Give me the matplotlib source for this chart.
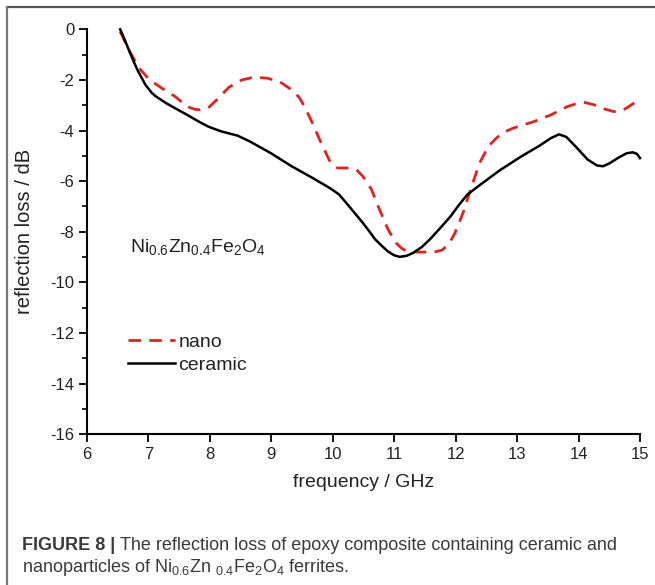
import matplotlib
matplotlib.use("Agg")
import matplotlib.pyplot as plt
from matplotlib.lines import Line2D
from matplotlib.ticker import MultipleLocator

plt.rcParams['font.family'] = ['Liberation Sans', 'DejaVu Sans']
plt.rcParams['mathtext.fontset'] = 'custom'
plt.rcParams['mathtext.rm'] = 'Liberation Sans'
plt.rcParams['mathtext.it'] = 'Liberation Sans'
plt.rcParams['mathtext.bf'] = 'Liberation Sans:bold'
plt.rcParams['axes.unicode_minus'] = False

# ---- data ----
ceramic_freq = [6.54, 6.62, 6.68, 6.75, 6.82, 6.95, 7.05, 7.12, 7.29, 7.45, 7.63, 7.80, 7.97,
                8.18, 8.45, 8.65, 8.99, 9.33, 9.67, 9.95, 10.10, 10.22, 10.35, 10.49, 10.60,
                10.69, 10.80, 10.90, 11.00, 11.09, 11.20, 11.31, 11.45, 11.58, 11.75, 11.92,
                12.05, 12.19, 12.40, 12.73, 13.07, 13.35, 13.55, 13.68, 13.80, 13.96, 14.15,
                14.30, 14.40, 14.50, 14.65, 14.78, 14.88, 14.95, 15.00]
ceramic_rl = [0.0, -0.45, -0.81, -1.22, -1.60, -2.19, -2.50, -2.65, -2.92, -3.14, -3.38, -3.62,
              -3.84, -4.03, -4.20, -4.43, -4.89, -5.41, -5.87, -6.27, -6.52, -6.86, -7.24,
              -7.65, -8.00, -8.30, -8.56, -8.78, -8.93, -8.99, -8.95, -8.83, -8.60, -8.30,
              -7.85, -7.38, -6.95, -6.53, -6.14, -5.55, -5.02, -4.62, -4.30, -4.15, -4.25,
              -4.65, -5.15, -5.38, -5.41, -5.30, -5.07, -4.90, -4.86, -4.92, -5.09]

nano_freq = [6.54, 6.68, 6.85, 7.02, 7.22, 7.43, 7.63, 7.75, 7.84, 7.97, 8.11, 8.31, 8.52,
             8.72, 8.93, 9.13, 9.33, 9.45, 9.54, 9.67, 9.81, 9.95, 10.02, 10.08, 10.29,
             10.40, 10.49, 10.63, 10.76, 10.90, 11.03, 11.12, 11.20, 11.37, 11.65, 11.78,
             11.85, 11.92, 11.99, 12.12, 12.26, 12.39, 12.53, 12.67, 12.80, 12.94, 13.28,
             13.55, 13.82, 13.95, 14.10, 14.25, 14.37, 14.57, 14.70, 14.78, 14.98]
nano_rl = [-0.09, -0.81, -1.54, -2.00, -2.33, -2.65, -3.05, -3.16, -3.18, -3.11, -2.79, -2.29,
           -2.00, -1.89, -1.93, -2.06, -2.39, -2.68, -3.05, -3.71, -4.49, -5.20, -5.40, -5.48,
           -5.48, -5.58, -5.81, -6.33, -7.12, -7.91, -8.44, -8.65, -8.76, -8.80, -8.80,
           -8.72, -8.57, -8.35, -8.04, -7.25, -6.20, -5.28, -4.63, -4.28, -4.05, -3.90,
           -3.64, -3.38, -3.05, -2.95, -2.89, -2.98, -3.11, -3.25, -3.22, -3.11, -2.79]

x_ticks = [6, 7, 8, 9, 10, 11, 12, 13, 14, 15]
y_ticks = [0, -2, -4, -6, -8, -10, -12, -14, -16]
series_labels = ["nano", "ceramic"]

W, H = 655, 585
fig = plt.figure(figsize=(W / 100, H / 100), dpi=100)
fig.patch.set_facecolor('white')

ax = fig.add_axes([87 / W, 1 - 434.3 / H, (640 - 87) / W, (434.3 - 29.3) / H])
ax.plot(nano_freq, nano_rl, color='#e0231f', lw=2.0, linestyle=(0, (4.5, 3)),
        clip_on=False, solid_joinstyle='round', dash_joinstyle='round')
ax.plot(ceramic_freq, ceramic_rl, color='black', lw=1.8, clip_on=False,
        solid_joinstyle='round')

ax.set_xlim(6, 15)
ax.set_ylim(-16, 0)
ax.set_xticks(x_ticks)
ax.set_yticks(y_ticks)
ax.set_xticklabels([str(v) for v in x_ticks])
ax.set_yticklabels([str(v) for v in y_ticks])
ax.yaxis.set_minor_locator(MultipleLocator(1))
for s in ['top', 'right']:
    ax.spines[s].set_visible(False)
for s in ['left', 'bottom']:
    ax.spines[s].set_linewidth(1.5)
ax.tick_params(axis='both', which='major', direction='out', length=6, width=1.3,
               labelsize=12, colors='black', labelcolor='#222222', pad=3)
ax.tick_params(axis='y', which='minor', direction='out', length=3.5, width=1.2)
ax.set_xlabel('frequency / GHz', fontsize=14, labelpad=9, color='#222222')
ax.set_ylabel('reflection loss / dB', fontsize=14.5, labelpad=12, color='#222222')

ax.text(6.7, -8.6, r'Ni$_{0.6}$Zn$_{0.4}$Fe$_2$O$_4$', fontsize=14, va='center', ha='left',
        color='#222222')

handles = [Line2D([], [], color='#e0231f', lw=2.0, linestyle=(0, (4.5, 3))),
           Line2D([], [], color='black', lw=1.8)]
ax.legend(handles, series_labels, loc='upper left', bbox_to_anchor=(0.06, 0.268),
          frameon=False, fontsize=14, handlelength=2.4, handletextpad=0.2,
          labelspacing=0.25, borderaxespad=0, labelcolor='#222222')

# border lines (top and left)
fig.add_artist(Line2D([7 / W, 1], [1 - 6.5 / H, 1 - 6.5 / H], color='#555555', lw=1.6,
                      transform=fig.transFigure))
fig.add_artist(Line2D([7 / W, 7 / W], [0, 1 - 6.5 / H], color='#777777', lw=1.6,
                      transform=fig.transFigure))

# caption
cap_color = '#3a3a3a'
fig.canvas.draw()
r = fig.canvas.get_renderer()
t1 = fig.text(22 / W, 1 - 545 / H, 'FIGURE 8 | ', fontsize=13.0, fontweight='bold',
              color=cap_color, va='center', ha='left')
bb = t1.get_window_extent(renderer=r)
fig.text(bb.x1 / W, 1 - 545 / H, 'The reflection loss of epoxy composite containing ceramic and',
         fontsize=13.0, color=cap_color, va='center', ha='left')
fig.text(22 / W, 1 - 568 / H,
         r'nanoparticles of Ni$_{0.6}$Zn $_{0.4}$Fe$_2$O$_4$ ferrites.',
         fontsize=13.0, color=cap_color, va='center', ha='left')

fig.savefig('out.png', dpi=100, facecolor='white')
